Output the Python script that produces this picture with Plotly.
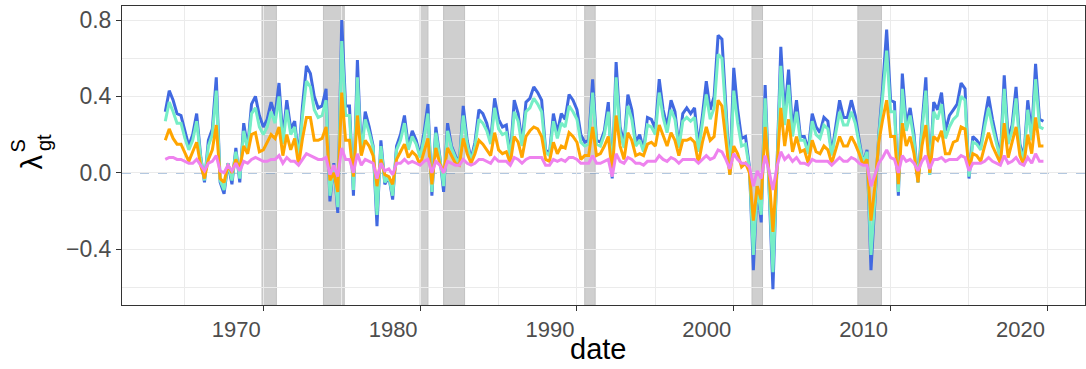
import pandas as pd
import plotly.graph_objects as go

# ---------------- data ----------------
dates = pd.date_range("1963-10-01", periods=225, freq="QS")

blue = [0.32,0.43,0.38,0.31,0.30,0.22,0.14,0.20,0.31,0.09,
        -0.05,0.17,0.23,0.50,-0.05,-0.11,0.05,-0.06,0.13,-0.05,
        0.26,0.13,0.36,0.40,0.30,0.24,0.28,0.37,0.30,0.47,
        0.18,0.38,0.23,0.27,0.08,0.35,0.56,0.52,0.40,0.34,
        0.35,0.44,-0.15,0.05,-0.21,0.80,0.35,0.35,-0.12,0.59,
        0.10,0.32,0.24,0.14,-0.28,0.17,-0.06,-0.02,-0.14,0.14,
        0.20,0.30,0.14,0.22,0.17,0.09,0.21,0.36,-0.12,0.24,
        0.09,-0.10,0.26,0.14,0.09,0.05,0.35,0.17,0.07,0.16,
        0.33,0.31,0.26,0.17,0.39,0.28,0.24,0.25,0.09,0.38,
        0.31,0.16,0.37,0.39,0.45,0.42,0.38,0.12,0.10,0.31,
        0.21,0.31,0.28,0.41,0.38,0.33,0.20,0.16,0.17,0.49,
        0.17,0.16,0.22,0.37,-0.03,0.58,0.24,0.15,0.41,0.33,
        0.16,0.20,0.12,0.29,0.28,0.23,0.49,0.33,0.24,0.38,
        0.32,0.14,0.31,0.34,0.31,0.34,0.14,0.30,0.48,0.33,
        0.40,0.72,0.70,0.35,-0.01,0.55,0.33,0.18,0.19,0.03,
        -0.51,-0.07,-0.26,0.46,-0.07,-0.61,0.02,0.66,0.30,0.54,
        0.22,0.38,0.19,0.19,0.12,0.31,0.24,0.21,0.29,0.27,
        0.10,0.24,0.38,0.29,0.29,0.38,0.30,0.17,0.05,0.12,
        -0.51,-0.15,0.20,0.45,0.75,0.38,0.37,-0.12,0.52,0.25,
        0.34,0.20,-0.05,0.25,0.50,-0.01,0.37,0.33,0.42,0.22,
        0.30,0.33,0.36,0.47,0.44,-0.03,0.19,0.17,0.14,0.28,
        0.40,0.28,0.18,0.08,0.51,0.18,0.25,0.45,0.15,0.08,
        0.38,0.20,0.57,0.28,0.27]

aqua = [0.27,0.37,0.32,0.26,0.26,0.18,0.12,0.17,0.27,0.08,
        -0.04,0.14,0.20,0.43,-0.04,-0.09,0.05,-0.04,0.11,-0.03,
        0.22,0.12,0.31,0.34,0.24,0.20,0.24,0.32,0.26,0.40,
        0.15,0.33,0.20,0.24,0.07,0.30,0.48,0.45,0.33,0.29,
        0.30,0.38,-0.12,0.04,-0.18,0.69,0.30,0.30,-0.09,0.50,
        0.10,0.28,0.21,0.13,-0.22,0.14,-0.05,-0.02,-0.12,0.12,
        0.17,0.26,0.12,0.19,0.15,0.08,0.18,0.31,-0.10,0.21,
        0.08,-0.07,0.22,0.13,0.08,0.05,0.30,0.15,0.06,0.14,
        0.28,0.26,0.22,0.15,0.34,0.23,0.20,0.21,0.08,0.32,
        0.27,0.14,0.32,0.34,0.39,0.36,0.32,0.11,0.09,0.27,
        0.18,0.26,0.24,0.35,0.32,0.28,0.16,0.14,0.15,0.42,
        0.15,0.14,0.20,0.32,-0.02,0.50,0.21,0.13,0.35,0.28,
        0.14,0.17,0.11,0.25,0.24,0.20,0.42,0.29,0.21,0.33,
        0.28,0.13,0.27,0.29,0.27,0.29,0.11,0.26,0.41,0.28,
        0.34,0.62,0.60,0.30,-0.01,0.43,0.26,0.14,0.15,0.02,
        -0.43,-0.07,-0.22,0.39,-0.05,-0.52,0.01,0.56,0.25,0.46,
        0.19,0.32,0.17,0.17,0.10,0.27,0.20,0.18,0.25,0.23,
        0.09,0.20,0.32,0.25,0.25,0.32,0.26,0.15,0.05,0.11,
        -0.43,-0.13,0.19,0.40,0.64,0.32,0.32,-0.10,0.44,0.22,
        0.30,0.17,-0.05,0.22,0.43,-0.01,0.32,0.28,0.36,0.18,
        0.24,0.28,0.30,0.40,0.38,-0.02,0.16,0.15,0.12,0.24,
        0.34,0.24,0.15,0.07,0.44,0.15,0.22,0.39,0.13,0.07,
        0.33,0.17,0.49,0.24,0.23]

orange = [0.17,0.23,0.18,0.15,0.15,0.10,0.06,0.11,0.16,0.04,
          -0.03,0.07,0.12,0.25,-0.03,-0.05,0.04,0.00,0.07,0.02,
          0.14,0.10,0.20,0.21,0.11,0.12,0.16,0.20,0.18,0.24,
          0.09,0.20,0.12,0.18,0.04,0.18,0.29,0.29,0.17,0.17,
          0.18,0.24,-0.04,0.00,-0.10,0.42,0.17,0.17,-0.02,0.30,
          0.09,0.17,0.14,0.09,-0.07,0.07,-0.01,-0.02,-0.06,0.07,
          0.11,0.15,0.08,0.11,0.09,0.04,0.11,0.18,-0.06,0.13,
          0.05,0.00,0.13,0.09,0.05,0.04,0.18,0.10,0.05,0.10,
          0.17,0.15,0.12,0.09,0.21,0.12,0.10,0.11,0.05,0.19,
          0.16,0.08,0.19,0.22,0.24,0.23,0.19,0.07,0.06,0.16,
          0.10,0.14,0.13,0.21,0.19,0.16,0.07,0.09,0.09,0.24,
          0.09,0.10,0.14,0.19,0.00,0.30,0.14,0.07,0.21,0.17,
          0.09,0.10,0.09,0.15,0.16,0.14,0.25,0.19,0.14,0.21,
          0.17,0.09,0.17,0.17,0.18,0.16,0.05,0.16,0.24,0.17,
          0.19,0.38,0.35,0.17,-0.01,0.14,0.10,0.03,0.05,0.00,
          -0.25,-0.07,-0.14,0.24,0.00,-0.31,0.00,0.34,0.14,0.28,
          0.11,0.19,0.11,0.12,0.05,0.17,0.11,0.10,0.14,0.12,
          0.05,0.12,0.19,0.14,0.14,0.19,0.15,0.10,0.04,0.07,
          -0.25,-0.07,0.16,0.28,0.38,0.19,0.19,-0.06,0.26,0.14,
          0.19,0.10,-0.05,0.14,0.25,0.00,0.19,0.17,0.22,0.10,
          0.10,0.16,0.17,0.24,0.23,0.02,0.10,0.09,0.06,0.14,
          0.21,0.14,0.09,0.05,0.26,0.08,0.16,0.24,0.09,0.04,
          0.20,0.10,0.29,0.14,0.14]

violet = [0.07,0.08,0.08,0.07,0.07,0.06,0.05,0.05,0.07,0.04,
          0.01,0.05,0.06,0.09,0.01,0.00,0.04,0.01,0.05,0.01,
          0.06,0.05,0.07,0.08,0.07,0.06,0.06,0.07,0.07,0.09,
          0.05,0.08,0.06,0.06,0.04,0.07,0.10,0.09,0.08,0.07,
          0.07,0.08,-0.01,0.04,-0.02,0.13,0.07,0.07,0.00,0.10,
          0.04,0.07,0.06,0.05,-0.03,0.05,0.01,0.02,-0.01,0.05,
          0.05,0.07,0.05,0.06,0.05,0.04,0.06,0.07,0.00,0.06,
          0.04,0.00,0.06,0.05,0.04,0.04,0.07,0.05,0.04,0.05,
          0.07,0.07,0.06,0.05,0.08,0.06,0.06,0.06,0.04,0.08,
          0.07,0.05,0.07,0.08,0.08,0.08,0.08,0.04,0.04,0.07,
          0.06,0.07,0.06,0.08,0.08,0.07,0.05,0.05,0.05,0.09,
          0.05,0.05,0.06,0.07,-0.02,0.10,0.06,0.05,0.08,0.07,
          0.05,0.05,0.04,0.06,0.06,0.06,0.09,0.07,0.06,0.08,
          0.07,0.05,0.07,0.07,0.07,0.07,0.05,0.07,0.09,0.07,
          0.08,0.12,0.11,0.07,0.02,0.10,0.07,0.05,0.05,0.03,
          -0.07,0.01,-0.03,0.09,0.01,-0.09,0.03,0.11,0.07,0.09,
          0.06,0.08,0.05,0.05,0.04,0.07,0.06,0.06,0.06,0.06,
          0.04,0.06,0.08,0.06,0.06,0.08,0.07,0.05,0.04,0.04,
          -0.07,-0.01,0.05,0.08,0.12,0.08,0.07,0.00,0.09,0.06,
          0.07,0.05,0.01,0.06,0.09,0.02,0.07,0.07,0.08,0.06,
          0.07,0.07,0.07,0.09,0.08,0.01,0.05,0.05,0.05,0.06,
          0.08,0.06,0.05,0.04,0.09,0.05,0.06,0.08,0.05,0.04,
          0.08,0.05,0.10,0.06,0.06]

rec_start = ["1969-12-01", "1973-11-01", "1980-01-01", "1981-07-01",
             "1990-07-01", "2001-03-01", "2007-12-01"]
rec_end = ["1970-11-01", "1975-03-01", "1980-07-01", "1982-11-01",
           "1991-03-01", "2001-11-01", "2009-06-01"]

x_tick_years = [1970, 1980, 1990, 2000, 2010, 2020]
x_minor_years = [1965, 1975, 1985, 1995, 2005, 2015]
y_ticks = [-0.4, 0.0, 0.4, 0.8]
y_tick_labels = ["\u22120.4", "0.0", "0.4", "0.8"]
y_minor = [-0.6, -0.2, 0.2, 0.6]

# ---------------- figure ----------------
FONT = "Liberation Sans, Arial, Helvetica, sans-serif"
fig = go.Figure()

series = [("blue", blue, "#4169E1"), ("aqua", aqua, "#76EEC6"),
          ("orange", orange, "#FFA500"), ("violet", violet, "#EE82EE")]
for name, vals, col in series:
    fig.add_trace(go.Scatter(x=dates, y=vals, mode="lines", name=name,
                             line=dict(color=col, width=3),
                             hoverinfo="skip"))

shapes = []
for s, e in zip(rec_start, rec_end):
    shapes.append(dict(type="rect", xref="x", yref="paper", x0=s, x1=e,
                       y0=0, y1=1, fillcolor="#cfcfcf",
                       line=dict(color="#c2c2c2", width=1), layer="between"))
shapes.append(dict(type="line", xref="paper", yref="y", x0=0, x1=1, y0=0, y1=0,
                   line=dict(color="#6b91c2", width=1.6, dash="dash"),
                   layer="between"))

grid = "#ebebeb"
fig.update_layout(
    width=1086, height=369,
    margin=dict(l=122, r=1, t=6, b=64),
    paper_bgcolor="white", plot_bgcolor="white",
    showlegend=False, shapes=shapes,
    font=dict(family=FONT),
    xaxis=dict(
        type="date",
        range=["1960-12-27", "2022-05-26"],
        tickvals=[f"{y}-01-01" for y in x_tick_years],
        ticktext=[str(y) for y in x_tick_years],
        ticks="outside", ticklen=5, tickwidth=1, tickcolor="#333333",
        tickfont=dict(size=22, color="#4d4d4d", family=FONT),
        ticklabelshift=-27,
        showgrid=True, gridcolor=grid, gridwidth=1.1,
        minor=dict(tickvals=[f"{y}-01-01" for y in x_minor_years],
                   showgrid=True, gridcolor=grid, gridwidth=0.6, ticks=""),
        showline=True, linecolor="#333333", linewidth=1, mirror=True,
        zeroline=False,
    ),
    yaxis=dict(
        range=[-0.6924, 0.8735],
        tickvals=y_ticks, ticktext=y_tick_labels,
        ticks="outside", ticklen=5, tickwidth=1, tickcolor="#333333",
        tickfont=dict(size=23, color="#4d4d4d", family=FONT),
        showgrid=True, gridcolor=grid, gridwidth=1.1,
        minor=dict(tickvals=y_minor, showgrid=True, gridcolor=grid,
                   gridwidth=0.6, ticks=""),
        showline=True, linecolor="#333333", linewidth=1, mirror=True,
        zeroline=False,
    ),
)

W, H = 963.0, 299.0
def px(xp):
    return (xp - 122) / W
def py(yp):
    return (305 - yp) / H

ann = [
    dict(text="date", x=px(598), y=py(349), size=29),
    dict(text="\u03bb", x=px(31.5), y=py(162), size=29, angle=-90),
    dict(text="S", x=px(17.5), y=py(146), size=20, angle=-90),
    dict(text="gt", x=px(44), y=py(143), size=20, angle=-90),
]
for a in ann:
    fig.add_annotation(text=a["text"], xref="paper", yref="paper",
                       x=a["x"], y=a["y"], xanchor="center", yanchor="middle",
                       showarrow=False, textangle=a.get("angle", 0),
                       font=dict(size=a["size"], color="black", family=FONT))

fig.write_html("out.html")
